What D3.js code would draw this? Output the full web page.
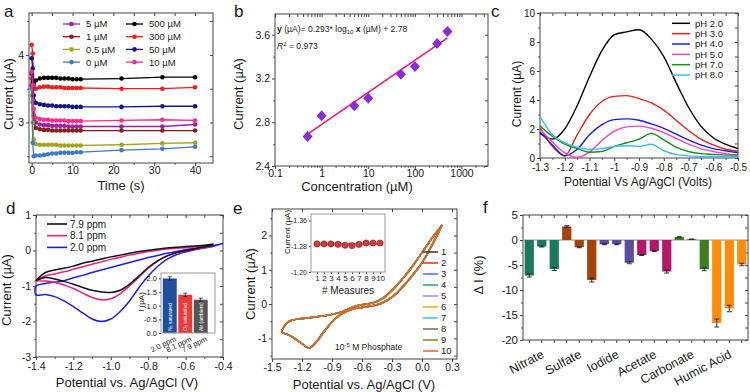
<!DOCTYPE html>
<html lang="en">
<head>
<meta charset="UTF-8">
<meta name="viewport" content="width=device-width, initial-scale=1.0">
<title>Phosphate sensing figure</title>
<script src="https://d3js.org/d3.v7.min.js"></script>
<style>
    body { margin: 0; background: #fff; }
    svg { font-family: "Liberation Sans", Arial, sans-serif; display: block; }
    text { fill: #1a1a1a; }
</style>
</head>
<body>
<svg id="fig" width="750" height="392"></svg>
<script>
// ---------- a: current vs time ----------
const timeA = [0, 0.25, 0.5, 1, 2, 3, 4, 5, 6, 7, 8, 9, 10, 11, 12, 22, 32, 40];
const curA5 = [3.65, 3.4, 3.1, 3.0, 2.97, 2.96, 2.96, 2.95, 2.95, 2.95, 2.95, 2.94, 2.94, 2.94, 2.94, 2.94, 2.94, 2.97];
const curA1 = [3.55, 3.3, 3.0, 2.92, 2.9, 2.89, 2.89, 2.88, 2.88, 2.88, 2.88, 2.88, 2.88, 2.88, 2.88, 2.88, 2.88, 2.88];
const curA05 = [3.4, 3.0, 2.75, 2.68, 2.67, 2.67, 2.67, 2.67, 2.67, 2.66, 2.66, 2.66, 2.66, 2.66, 2.66, 2.67, 2.69, 2.70];
const curA0 = [3.5, 2.7, 2.5, 2.51, 2.51, 2.52, 2.53, 2.54, 2.54, 2.55, 2.55, 2.55, 2.55, 2.56, 2.56, 2.59, 2.61, 2.64];
const curA500 = [3.72, 3.6, 3.58, 3.62, 3.65, 3.66, 3.66, 3.66, 3.66, 3.65, 3.65, 3.65, 3.64, 3.64, 3.64, 3.65, 3.67, 3.67];
const curA300 = [4.15, 4.02, 3.55, 3.5, 3.52, 3.53, 3.53, 3.52, 3.52, 3.52, 3.51, 3.51, 3.51, 3.51, 3.51, 3.5, 3.5, 3.52];
const curA50 = [3.95, 3.8, 3.4, 3.29, 3.27, 3.26, 3.25, 3.25, 3.24, 3.24, 3.24, 3.24, 3.23, 3.23, 3.23, 3.23, 3.24, 3.24];
const curA10 = [3.75, 3.55, 3.2, 3.07, 3.05, 3.04, 3.04, 3.03, 3.03, 3.03, 3.03, 3.02, 3.02, 3.02, 3.02, 3.03, 3.04, 3.03];
const concLabelsA = ["5 µM", "1 µM", "0.5 µM", "0 µM", "500 µM", "300 µM", "50 µM", "10 µM"];
const curA = [curA5, curA1, curA05, curA0, curA500, curA300, curA50, curA10];
const colorsA = ["#a21fa0", "#8e1b1b", "#a3a322", "#3d7cc4", "#000000", "#f01d1d", "#14148c", "#fb2a8c"];
const tickTimeA = [0, 10, 20, 30, 40];
const tickCurA = [3, 4];

// ---------- b: calibration ----------
const concB = [0.5, 1, 5, 10, 50, 100, 300, 500];
const curB = [2.67, 2.86, 2.95, 3.02, 3.24, 3.31, 3.52, 3.63];
const fitXB = [0.5, 500];
const fitYB = [2.692, 3.571];
const tickConcB = [0.1, 1, 10, 100, 1000];
const tickCurB = [2.4, 2.8, 3.2, 3.6];

// ---------- c: pH dependence ----------
const potC = [-1.3, -1.25, -1.2, -1.15, -1.1, -1.05, -1.0, -0.95, -0.9, -0.85, -0.8, -0.75, -0.7, -0.65, -0.6, -0.55, -0.5];
const pH2 = [1.7, 1.3, 2.0, 3.6, 5.6, 7.4, 8.5, 8.7, 8.85, 8.2, 7.0, 5.2, 3.5, 2.2, 1.4, 0.95, 0.65];
const pH3 = [2.1, 0.8, 0.15, 1.6, 3.0, 3.9, 4.25, 4.3, 4.1, 3.8, 3.3, 2.6, 1.9, 1.3, 0.9, 0.6, 0.45];
const pH4 = [1.8, 0.9, 0.15, 0.6, 1.6, 2.3, 2.65, 2.7, 2.6, 2.35, 2.05, 1.65, 1.25, 0.9, 0.65, 0.5, 0.35];
const pH5 = [2.0, 1.1, 0.35, 0.05, 0.4, 1.2, 1.85, 2.15, 2.2, 2.05, 1.75, 1.35, 0.95, 0.65, 0.45, 0.3, 0.2];
const pH7 = [2.2, 1.5, 0.95, 0.65, 0.4, 0.45, 0.8, 1.05, 1.3, 1.7, 1.25, 0.75, 0.45, 0.3, 0.25, 0.2, 0.2];
const pH8 = [2.85, 1.6, 1.05, 0.75, 0.6, 0.65, 0.8, 0.85, 0.8, 0.95, 0.5, 0.25, 0.15, 0.1, 0.1, 0.1, 0.1];
const labelsC = ["pH 2.0", "pH 3.0", "pH 4.0", "pH 5.0", "pH 7.0", "pH 8.0"];
const curC = [pH2, pH3, pH4, pH5, pH7, pH8];
const colorsC = ["#000000", "#e8211d", "#1c1ce8", "#f046c8", "#1d8c1d", "#3bbcf0"];
const tickPotC = [-1.3, -1.2, -1.1, -1, -0.9, -0.8, -0.7, -0.6, -0.5];
const tickCurC = [0, 2, 4, 6, 8, 10];

// ---------- d: dissolved oxygen CVs ----------
const potD = [-1.4, -1.35, -1.3, -1.25, -1.2, -1.15, -1.1, -1.05, -1.0, -0.95, -0.9, -0.85, -0.8, -0.75, -0.7, -0.65, -0.6, -0.55, -0.5, -0.45, -0.4];
const lowD79 = [-0.85, -0.76, -0.8, -0.87, -0.95, -1.04, -1.12, -1.17, -1.18, -1.12, -0.95, -0.72, -0.48, -0.29, -0.15, -0.06, 0.0, 0.05, 0.1, 0.15];
const upD79 = [-0.85, -0.62, -0.55, -0.5, -0.44, -0.36, -0.3, -0.24, -0.18, -0.13, -0.08, -0.03, 0.01, 0.04, 0.07, 0.09, 0.11, 0.13, 0.15, 0.18];
const lowD81 = [-0.85, -0.86, -0.9, -0.97, -1.07, -1.2, -1.32, -1.39, -1.36, -1.22, -1.0, -0.75, -0.5, -0.3, -0.16, -0.07, -0.01, 0.04, 0.08, 0.12];
const upD81 = [-0.85, -0.72, -0.66, -0.6, -0.53, -0.46, -0.39, -0.32, -0.25, -0.19, -0.13, -0.08, -0.03, 0.01, 0.04, 0.06, 0.08, 0.1, 0.12, 0.14];
const lowD20 = [-1.25, -1.24, -1.3, -1.42, -1.58, -1.76, -1.93, -2.0, -1.93, -1.72, -1.42, -1.05, -0.72, -0.45, -0.25, -0.12, -0.04, 0.02, 0.07, 0.12, 0.2];
const upD20 = [-1.0, -0.93, -0.89, -0.85, -0.77, -0.7, -0.62, -0.55, -0.48, -0.41, -0.34, -0.27, -0.2, -0.14, -0.08, -0.03, 0.02, 0.06, 0.1, 0.14, 0.2];
const labelsD = ["7.9 ppm", "8.1 ppm", "2.0 ppm"];
const colorsD = ["#111111", "#ee2277", "#1f1fe6"];
const tickPotD = [-1.4, -1.2, -1.0, -0.8, -0.6, -0.4];
const tickCurD = [-3, -2, -1, 0, 1];
// inset
const o2Labels = ["2.0 ppm", "8.1 ppm", "7.9 ppm"];
const o2Names = ["N\u2082 saturated", "O\u2082 saturated", "Air (ambient)"];
const o2Current = [-2.0, -1.4, -1.22];
const o2Err = [0.06, 0.06, 0.06];
const o2Colors = ["#1f4e9c", "#f03838", "#555555"];
const tickO2 = [0, -0.5, -1.0, -1.5, -2.0];

// ---------- e: repeatability ----------
const potE = [-1.4, -1.35, -1.3, -1.25, -1.2, -1.13, -1.05, -1.0, -0.9, -0.8, -0.7, -0.65, -0.6, -0.5, -0.45, -0.4, -0.3, -0.2, -0.1, 0.0, 0.1, 0.2];
const lowE = [-0.82, -0.88, -0.95, -1.05, -1.15, -1.28, -1.08, -0.88, -0.52, -0.28, -0.15, -0.12, -0.1, -0.05, -0.02, 0.03, 0.2, 0.48, 0.82, 1.2, 1.72, 2.3];
const upE = [-0.82, -0.55, -0.47, -0.44, -0.42, -0.4, -0.37, -0.35, -0.3, -0.22, -0.1, -0.05, -0.02, 0.03, 0.08, 0.15, 0.4, 0.72, 1.08, 1.5, 1.92, 2.3];
const measLabels = ["1", "2", "3", "4", "5", "6", "7", "8", "9", "10"];
const measN = [1, 2, 3, 4, 5, 6, 7, 8, 9, 10];
const measCur = [-1.287, -1.287, -1.287, -1.286, -1.283, -1.282, -1.286, -1.29, -1.29, -1.29];
const colorsE = ["#333333", "#e8262b", "#3f6fe0", "#1fa070", "#b57ee0", "#f2a51a", "#37c4d8", "#8c6555", "#6f8f1f", "#e8641c"];
const tickPotE = [-1.5, -1.2, -0.9, -0.6, -0.3, 0.0, 0.3];
const tickCurE = [-1, 0, 1, 2];
const tickMeasCur = [-1.36, -1.28, -1.2];

// ---------- f: interferents ----------
const ionNames = ["Nitrate", "Sulfate", "Iodide", "Acetate", "Carbonate", "Humic Acid"];
const deltaI = [-7.1, -1.3, -5.8, 2.7, -1.45, -8.0, -0.85, -0.85, -4.55, -3.0, -2.2, -6.3, 0.6, 0.15, -5.85, -16.6, -13.7, -4.9];
const deltaErr = [0.3, 0.1, 0.3, 0.15, 0.1, 0.4, 0.1, 0.1, 0.2, 0.1, 0.1, 0.3, 0.05, 0.05, 0.3, 0.8, 0.65, 0.25];
const colorsF = ["#1c7a5c", "#a5430c", "#5b4b9d", "#b3196b", "#3f7f22", "#ff8c0a"];
const tickDeltaF = [-20, -15, -10, -5, 0, 5];

const svg = d3.select("#fig");
const num = d => String(d);
const fix1 = d => d.toFixed(1);
const fix2 = d => d.toFixed(2);

// frame with ticks, Origin style: out on bottom/left, in on top/right
function axes(g, x, y, o) {
    const [x0, x1] = x.range(), [y1, y0] = y.range();
    const fs = (o.fs || 10.5) + "px";
    const fsy = (o.fsy || o.fs || 10.5) + "px";
    const ts = o.ts || 3;
    const put = (axis, tx, ty, size) => {
        const a = g.append("g").attr("transform", `translate(${tx},${ty})`).call(axis);
        a.select(".domain").remove();
        a.selectAll("line").attr("stroke", "#444");
        a.selectAll("text").style("font-size", size || fs).attr("fill", "#222");
        return a;
    };
    put(d3.axisBottom(x).tickValues(o.xt).tickSize(ts).tickPadding(o.xpad || 1).tickFormat(o.xf), 0, y1);
    if (o.xm) put(d3.axisBottom(x).tickValues(o.xm).tickSize(ts * 0.6).tickFormat(""), 0, y1);
    put(d3.axisLeft(y).tickValues(o.yt).tickSize(ts).tickPadding(2).tickFormat(o.yf), x0, 0, fsy);
    if (o.ym) put(d3.axisLeft(y).tickValues(o.ym).tickSize(ts * 0.6).tickFormat(""), x0, 0);
    if (o.mirror !== false) {
        put(d3.axisTop(x).tickValues(o.xt.concat(o.xm || [])).tickSize(-ts).tickFormat(""), 0, y0);
        put(d3.axisRight(y).tickValues(o.yt.concat(o.ym || [])).tickSize(-ts).tickFormat(""), x1, 0);
    }
    g.append("rect").attr("x", x0).attr("y", y0).attr("width", x1 - x0).attr("height", y1 - y0)
        .attr("fill", "none").attr("stroke", o.frame || "#444");
}

function title(g, txt, x, y, size, rotate) {
    return g.append("text")
        .attr("transform", `translate(${x},${y})` + (rotate ? " rotate(-90)" : ""))
        .attr("text-anchor", "middle").style("font-size", size + "px").text(txt);
}

// panel letters
[["a", 4, 17], ["b", 234, 17], ["c", 491, 17], ["d", 6, 214], ["e", 233, 214], ["f", 483, 213]].forEach(p => {
    svg.append("text").attr("x", p[1]).attr("y", p[2]).style("font-size", "17px").text(p[0]);
});

// ===== a =====
const ga = svg.append("g");
const xa = d3.scaleLinear([-0.66, 44.4], [29, 213]);
const ya = d3.scaleLinear([2.4, 4.62], [163, 13]);
axes(ga, xa, ya, { xt: tickTimeA, xm: [5, 15, 25, 35], yt: tickCurA, ym: [2.5, 3.5, 4.5], xf: num, yf: num });
const lineA = d3.line().x((d, i) => xa(timeA[i])).y(d => ya(d));
curA.forEach((vals, k) => {
    ga.append("path").attr("d", lineA(vals)).attr("fill", "none")
        .attr("stroke", colorsA[k]).attr("stroke-width", 1.3);
    ga.append("g").selectAll("circle").data(vals).join("circle")
        .attr("cx", (d, i) => xa(timeA[i])).attr("cy", d => ya(d))
        .attr("r", 2.3).attr("fill", colorsA[k]);
});
concLabelsA.forEach((lab, k) => {
    const lx = k < 4 ? 63 : 126, ly = 24 + (k % 4) * 12.7;
    ga.append("line").attr("x1", lx).attr("x2", lx + 17).attr("y1", ly).attr("y2", ly)
        .attr("stroke", colorsA[k]).attr("stroke-width", 1.3);
    ga.append("circle").attr("cx", lx + 8.5).attr("cy", ly).attr("r", 2.3).attr("fill", colorsA[k]);
    ga.append("text").attr("x", lx + 23).attr("y", ly + 3.4).style("font-size", "9.5px").text(lab);
});
title(ga, "Time (s)", 121, 190, 13);
title(ga, "Current (µA)", 13, 94, 13, true);

// ===== b =====
const gb = svg.append("g");
const xb = d3.scaleLog([0.1, 3700], [275, 488]);
const yb = d3.scaleLinear([2.4, 3.79], [166, 14]);
const minorB = [];
tickConcB.forEach(p => { for (let m = 2; m <= 9; m++) if (p * m < 3700) minorB.push(p * m); });
axes(gb, xb, yb, { xt: tickConcB, xm: minorB, yt: tickCurB, ym: [2.6, 3.0, 3.4], xf: num, yf: fix1 });
gb.append("path")
    .attr("d", d3.line().x(d => xb(d)).y((d, i) => yb(fitYB[i]))(fitXB))
    .attr("stroke", "#ee1a6e").attr("stroke-width", 1.6).attr("fill", "none");
gb.selectAll("path.dm").data(concB).join("path").attr("class", "dm")
    .attr("transform", (d, i) => `translate(${xb(d)},${yb(curB[i])})`)
    .attr("d", "M0,-5.5L5,0L0,5.5L-5,0Z").attr("fill", "#8a2be2");
const eq = gb.append("text").attr("x", 277).attr("y", 32).style("font-size", "8.6px");
eq.append("tspan").attr("font-weight", "bold").text("y");
eq.append("tspan").text(" (µA)= 0.293* log");
eq.append("tspan").attr("dy", 2).style("font-size", "6px").text("10");
eq.append("tspan").attr("dy", -2).text(" ");
eq.append("tspan").attr("font-weight", "bold").text("x");
eq.append("tspan").text(" (µM) + 2.78");
const r2 = gb.append("text").attr("x", 277).attr("y", 49).style("font-size", "8.6px");
r2.append("tspan").attr("font-style", "italic").text("R");
r2.append("tspan").attr("dy", -3).style("font-size", "6px").text("2");
r2.append("tspan").attr("dy", 3).text(" = 0.973");
title(gb, "Concentration (µM)", 357, 191, 13);
title(gb, "Current (µA)", 243, 94, 13, true);

// ===== c =====
const gc = svg.append("g");
const xc = d3.scaleLinear([-1.3, -0.5], [540, 738]);
const yc = d3.scaleLinear([0, 10], [158, 13]);
axes(gc, xc, yc, { xt: tickPotC, xm: [-1.25, -1.15, -1.05, -0.95, -0.85, -0.75, -0.65, -0.55], yt: tickCurC, ym: [1, 3, 5, 7, 9], xf: num, yf: num, fs: 10, xpad: 3 });
const lineC = d3.line().curve(d3.curveMonotoneX).x((d, i) => xc(potC[i])).y(d => yc(d));
curC.forEach((vals, k) => {
    gc.append("path").attr("d", lineC(vals)).attr("fill", "none")
        .attr("stroke", colorsC[k]).attr("stroke-width", 1.4);
});
labelsC.forEach((lab, k) => {
    const ly = 23.3 + k * 10.35;
    gc.append("line").attr("x1", 672).attr("x2", 690).attr("y1", ly).attr("y2", ly)
        .attr("stroke", colorsC[k]).attr("stroke-width", 1.5);
    gc.append("text").attr("x", 695).attr("y", ly + 3.3).style("font-size", "9.5px").text(lab);
});
title(gc, "Potential Vs Ag/AgCl (Volts)", 638, 186, 12);
title(gc, "Current (µA)", 521, 94, 12, true);

// ===== d =====
const gd = svg.append("g");
const xd = d3.scaleLinear([-1.4, -0.4], [36, 223]);
const yd = d3.scaleLinear([-3, 1], [357, 215]);
axes(gd, xd, yd, { xt: tickPotD, xm: [-1.3, -1.1, -0.9, -0.7, -0.5], yt: tickCurD, ym: [-2.5, -1.5, -0.5, 0.5], xf: fix1, yf: num, xpad: 3 });
const lineD = d3.line().curve(d3.curveCatmullRom.alpha(0.5)).x(d => xd(d[0])).y(d => yd(d[1]));
const loopsD = [[lowD20, upD20, 2], [lowD81, upD81, 1], [lowD79, upD79, 0]];
loopsD.forEach(([low, up, k]) => {
    const pts = low.map((v, i) => [potD[i], v]).reverse().concat(up.map((v, i) => [potD[i], v]));
    gd.append("path").attr("d", lineD(pts)).attr("fill", "none")
        .attr("stroke", colorsD[k]).attr("stroke-width", 1.5);
});
labelsD.forEach((lab, k) => {
    const ly = 224 + k * 11.7;
    gd.append("line").attr("x1", 47).attr("x2", 67).attr("y1", ly).attr("y2", ly)
        .attr("stroke", colorsD[k]).attr("stroke-width", 1.6);
    gd.append("text").attr("x", 70).attr("y", ly + 3.5).style("font-size", "10px").text(lab);
});
title(gd, "Potential vs. Ag/AgCl (V)", 127, 387, 13);
title(gd, "Current (µA)", 11, 290, 13, true);

// inset of d
const gdi = svg.append("g");
const xdi = d3.scaleBand(d3.range(3), [162, 208.5]).paddingInner(0.1).paddingOuter(0.05);
const ydi = d3.scaleLinear([0, -2.2], [333, 273]);
gdi.append("rect").attr("x", 161).attr("y", 273).attr("width", 54).attr("height", 60).attr("fill", "#fff");
gdi.selectAll("rect.bar").data(o2Current).join("rect").attr("class", "bar")
    .attr("x", (d, i) => xdi(i)).attr("width", xdi.bandwidth())
    .attr("y", d => ydi(d)).attr("height", d => ydi(0) - ydi(d))
    .attr("fill", (d, i) => o2Colors[i]);
o2Current.forEach((v, i) => {
    const cx = xdi(i) + xdi.bandwidth() / 2;
    gdi.append("path").attr("d", `M${cx},${ydi(v - o2Err[i])}V${ydi(v + o2Err[i])}M${cx - 2},${ydi(v - o2Err[i])}H${cx + 2}M${cx - 2},${ydi(v + o2Err[i])}H${cx + 2}`)
        .attr("stroke", "#222").attr("stroke-width", 0.8);
    gdi.append("text").attr("transform", `translate(${cx + 1.8},${ydi(0) - 2}) rotate(-90)`)
        .style("font-size", "5px").style("fill", "#fff").text(o2Names[i]);
    gdi.append("text").attr("transform", `translate(${cx + 5},${337}) rotate(-26)`)
        .attr("text-anchor", "end").attr("dy", "0.55em").style("font-size", "7.5px").text(o2Labels[i]);
});
axes(gdi, d3.scaleLinear([0, 1], [161, 215]), ydi, { xt: [], yt: tickO2, xf: num, yf: fix1, fs: 7.5, ts: 2, mirror: false, frame: "#999" });
title(gdi, "I (µA)", 144, 302, 8, true);

// ===== e =====
const ge = svg.append("g");
const xe = d3.scaleLinear([-1.5, 0.35], [272, 457]);
const ye = d3.scaleLinear([-1.6, 2.77], [359, 209]);
axes(ge, xe, ye, { xt: tickPotE, yt: tickCurE, ym: [-1.5, -0.5, 0.5, 1.5, 2.5], xf: fix1, yf: num, xpad: 2 });
const lineE = d3.line().curve(d3.curveCatmullRom.alpha(0.5)).x(d => xe(d[0])).y(d => ye(d[1]));
const ptsE = upE.map((v, i) => [potE[i], v]).reverse().concat(lowE.map((v, i) => [potE[i], v]).slice(1));
measN.forEach((m, k) => {
    ge.append("path").attr("d", lineE(ptsE)).attr("fill", "none")
        .attr("stroke", colorsE[k]).attr("stroke-width", 1.5);
});
measLabels.forEach((lab, k) => {
    const ly = 252 + k * 11;
    ge.append("line").attr("x1", 423).attr("x2", 438).attr("y1", ly).attr("y2", ly)
        .attr("stroke", colorsE[k]).attr("stroke-width", 1.5);
    ge.append("text").attr("x", 441).attr("y", ly + 3.3).style("font-size", "9.5px").text(lab);
});
const ph = ge.append("text").attr("x", 335).attr("y", 350).style("font-size", "8.5px");
ph.append("tspan").text("10");
ph.append("tspan").attr("dy", -3).style("font-size", "6px").text("-5");
ph.append("tspan").attr("dy", 3).text(" M Phosphate");
title(ge, "Potential vs. Ag/AgCl (V)", 364, 389, 13);
title(ge, "Current (µA)", 255, 284, 13, true);

// inset of e
const gei = svg.append("g");
gei.append("rect").attr("x", 311).attr("y", 214).attr("width", 74).attr("height", 58).attr("fill", "#fff");
const xei = d3.scaleLinear([0.15, 10.7], [311, 385]);
const yei = d3.scaleLinear([-1.2, -1.38], [272, 214]);
axes(gei, xei, yei, { xt: measN, yt: tickMeasCur, xf: d => measLabels[d - 1], yf: fix2, fs: 8, fsy: 7, ts: 2, mirror: false, frame: "#999" });
gei.append("path")
    .attr("d", d3.line().x(d => xei(d)).y(() => yei(d3.mean(measCur)))([measN[0], measN[9]]))
    .attr("stroke", "#222").attr("stroke-width", 1);
gei.selectAll("circle").data(measCur).join("circle")
    .attr("cx", (d, i) => xei(measN[i])).attr("cy", d => yei(d)).attr("r", 3.1)
    .attr("fill", "#d43c3c").attr("stroke", "#7a1a1a").attr("stroke-width", 0.6);
title(gei, "# Measures", 348, 294, 10);
title(gei, "Current (µA)", 290, 232, 8, true);

// ===== f =====
const gf = svg.append("g");
const xf = d3.scaleBand(d3.range(deltaI.length), [523, 748]).paddingInner(0.26).paddingOuter(0.13);
const yf = d3.scaleLinear([-20, 5], [340, 215]);
axes(gf, xf, yf, { xt: d3.range(deltaI.length), yt: tickDeltaF, ym: [-17.5, -12.5, -7.5, -2.5, 2.5], xf: () => "", yf: num, fs: 11.5 });
gf.append("line").attr("x1", 523).attr("x2", 748).attr("y1", yf(0)).attr("y2", yf(0))
    .attr("stroke", "#777").attr("stroke-width", 0.8);
gf.selectAll("rect.bar").data(deltaI).join("rect").attr("class", "bar")
    .attr("x", (d, i) => xf(i)).attr("width", xf.bandwidth())
    .attr("y", d => yf(Math.max(0, d))).attr("height", d => Math.abs(yf(d) - yf(0)))
    .attr("fill", (d, i) => colorsF[Math.floor(i / 3)]);
deltaI.forEach((v, i) => {
    const cx = xf(i) + xf.bandwidth() / 2, a = yf(v - deltaErr[i]), b = yf(v + deltaErr[i]);
    gf.append("path").attr("d", `M${cx},${a}V${b}M${cx - 2.5},${a}H${cx + 2.5}M${cx - 2.5},${b}H${cx + 2.5}`)
        .attr("stroke", "#1e1e3a").attr("stroke-width", 0.9).attr("fill", "none");
});
ionNames.forEach((n, k) => {
    const cx = xf(k * 3 + 1) + xf.bandwidth() / 2;
    gf.append("text").attr("transform", `translate(${cx + 1},${353}) rotate(-28)`)
        .attr("text-anchor", "end").attr("dy", "0.35em").style("font-size", "12.5px").text(n);
});
title(gf, "\u0394 I (%)", 483, 275, 13, true);
</script>
</body>
</html>
